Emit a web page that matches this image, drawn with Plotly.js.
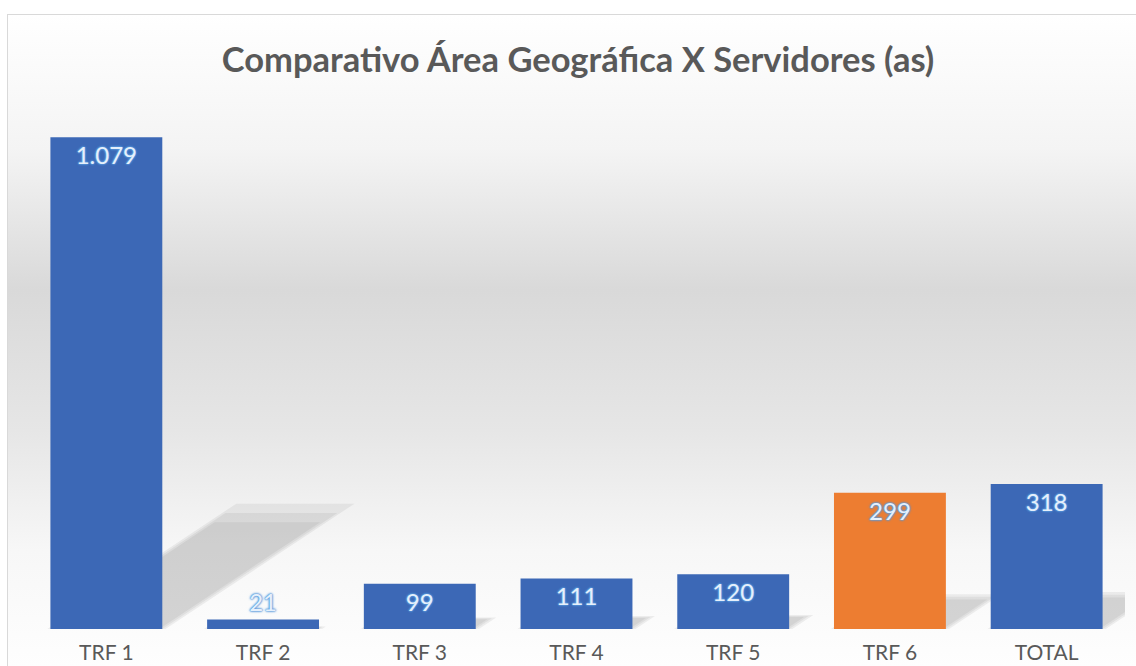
<!DOCTYPE html>
<html>
<head>
<meta charset="utf-8">
<script src="https://cdn.plot.ly/plotly-3.0.1.min.js"></script>
<style>
	body { margin: 0; overflow: hidden; background: #ffffff; }
	#chart_box {
		position: absolute;
		left: 7px;
		top: 14px;
		width: 1140px;
		height: 670px;
		border: 1px solid #d9d9d9;
		background: linear-gradient(to bottom, #ffffff 0%, #f4f4f4 20%, #d9d9d9 41%, #e6e6e6 62%, #f7f7f7 80%, #ffffff 100%);
	}
</style>
</head>
<body>
<div id="chart_box"></div>
<script>
var categories = ['TRF 1', 'TRF 2', 'TRF 3', 'TRF 4', 'TRF 5', 'TRF 6', 'TOTAL'];
var servidores = [1079, 21, 99, 111, 120, 299, 318];
var highlight  = 'TRF 6';

var blue   = '#3c68b6';
var orange = '#ed7d31';

//bar colours, TRF 6 stands out in orange
var barColors = [];
for(var i = 0; i < categories.length; i++){
	barColors.push(categories[i] == highlight ? orange : blue);
}

//small bars can't hold their label, put it above
var textPos = servidores.map(function(v){ return v < 50 ? 'outside' : 'inside'; });

var labelFont = {
	family: 'Lato, "Open Sans", sans-serif',
	size: 24,
	color: '#e6f0fb',
	shadow: '0 0 1px #5d9ee0, 0 0 2px #5d9ee0, 0 0 2px #5d9ee0, 0 0 3px #4f8fd3'
};

var trace1 = {
	x: categories,
	y: servidores,
	type: 'bar',
	marker: { color: barColors, line: { width: 0 } },
	texttemplate: '%{y:,}',
	textposition: textPos,
	insidetextanchor: 'end',
	constraintext: 'none',
	cliponaxis: false,
	textfont: labelFont,
	insidetextfont: labelFont,
	outsidetextfont: labelFont,
	hoverinfo: 'skip'
};

//perspective shadow behind each bar (grows with the bar value)
//three stacked layers give it a soft edge
var half = (1 - 0.286) / 2;
var spread = [0.92, 1.0, 1.08];
var shadows = [];
for(var i = 0; i < servidores.length; i++){
	var v = servidores[i];
	for(var s = 0; s < spread.length; s++){
		var dx = v * 0.001035 * spread[s];
		var dy = v * 0.236 * spread[s];
		var w  = half + 0.02 * (s - 1);
		shadows.push({
			type: 'path',
			xref: 'x', yref: 'y',
			path: 'M ' + (i - w) + ',0 L ' + (i + w) + ',0 L ' +
				(i + w + dx) + ',' + dy + ' L ' + (i - w + dx) + ',' + dy + ' Z',
			fillcolor: 'rgba(110,110,110,0.1)',
			line: { width: 0 },
			layer: 'below'
		});
	}
}

var layout = {
	width: 1140,
	height: 670,
	margin: { l: 20, r: 23, t: 67, b: 56 },
	paper_bgcolor: 'rgba(0,0,0,0)',
	plot_bgcolor: 'rgba(0,0,0,0)',
	separators: ',.',
	bargap: 0.286,
	showlegend: false,
	title: {
		text: 'Comparativo Área Geográfica X Servidores (as)',
		font: { family: 'Lato, "Open Sans", sans-serif', size: 34.5, color: '#595959', weight: 'bold' },
		x: 0.5,
		xanchor: 'center',
		y: 0.933,
		yref: 'container',
		yanchor: 'middle'
	},
	xaxis: {
		type: 'category',
		range: [-0.5, categories.length - 0.5],
		showgrid: false,
		zeroline: false,
		showline: false,
		ticks: '',
		ticklabelstandoff: 9,
		tickfont: { family: 'Lato, "Open Sans", sans-serif', size: 21, color: '#595959' }
	},
	yaxis: {
		range: [0, 1200],
		visible: false,
		showgrid: false,
		zeroline: false
	},
	shapes: shadows
};

Plotly.newPlot('chart_box', [trace1], layout, { staticPlot: true, displayModeBar: false });
</script>
</body>
</html>
